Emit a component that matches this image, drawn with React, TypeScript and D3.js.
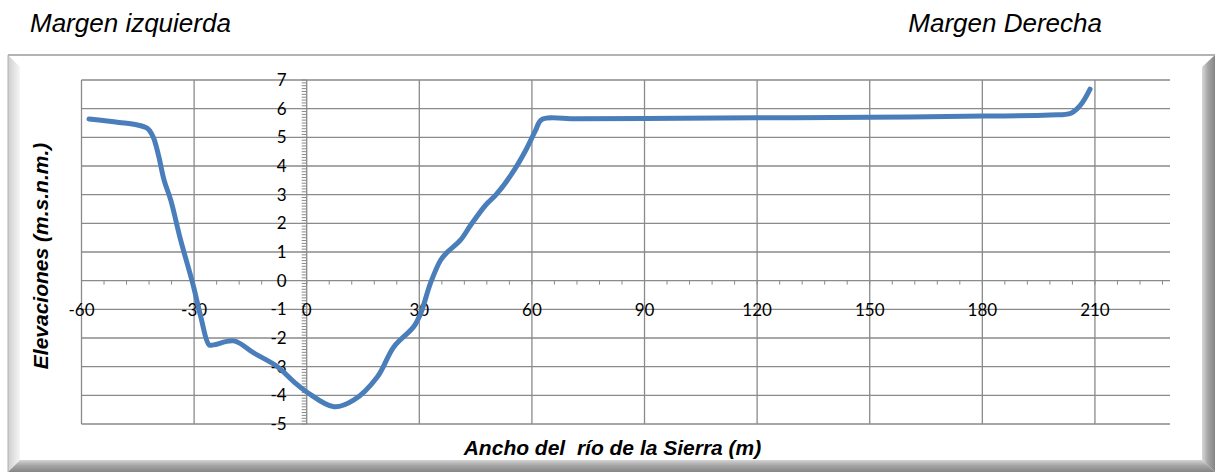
import React from "react";
import * as d3 from "d3";

// Sección transversal: distancia (m) vs elevación (m.s.n.m.)
const DIST = [
  -58.0, -50.0, -45.1, -42.4, -41.3, -40.6, -39.4, -38.0, -36.2, -33.6,
  -30.4, -28.2, -26.0, -24.8, -19.4, -14.0, -7.8, -3.4, 0.2, 7.3,
  12.6, 18.8, 23.2, 28.5, 30.4, 33.0, 35.7, 37.5, 41.0, 43.7,
  47.7, 50.4, 54.4, 58.4, 61.0, 62.6, 72.0, 90.0, 120.0,
  150.0, 180.4, 198.0, 203.6, 206.2, 208.7,
];
const ELEV = [
  5.64, 5.52, 5.43, 5.31, 5.12, 4.91, 4.33, 3.51, 2.80, 1.42,
  -0.08, -1.27, -2.24, -2.24, -2.10, -2.53, -3.00, -3.53, -3.90, -4.40,
  -4.16, -3.36, -2.31, -1.61, -1.13, -0.08, 0.72, 1.00, 1.42, 1.94,
  2.64, 2.99, 3.68, 4.56, 5.25, 5.62, 5.65, 5.66, 5.68,
  5.70, 5.74, 5.78, 5.84, 6.13, 6.68,
];

const X_TICKS = [-60, -30, 0, 30, 60, 90, 120, 150, 180, 210];
const Y_TICKS = [-5, -4, -3, -2, -1, 0, 1, 2, 3, 4, 5, 6, 7];
const X_DOMAIN = [-60, 230];
const Y_DOMAIN = [-5, 7];

const W = 1217;
const H = 474;
const PLOT = { left: 81.5, right: 1170, top: 80, bottom: 424 };
const GRID = "#8a8a8a";
const LINE = "#4A7EBB";
const TICK_FONT = "Lato, 'Open Sans', sans-serif";
const TITLE_FONT = "'Liberation Sans', Arial, sans-serif";

export default function App() {
  const x = d3.scaleLinear().domain(X_DOMAIN).range([PLOT.left, PLOT.right]);
  const y = d3.scaleLinear().domain(Y_DOMAIN).range([PLOT.bottom, PLOT.top]);

  const pts = DIST.map((d, i) => [d, ELEV[i]] as [number, number]);
  const path = d3.line<[number, number]>()
    .x(d => x(d[0]))
    .y(d => y(d[1]))
    .curve(d3.curveCatmullRom.alpha(0.5))(pts) ?? "";

  const minorX = d3.range(-60, 231, 6);
  const minorY = d3.range(-50, 71, 1).map(v => v / 10);
  const x0 = x(0);
  const y0 = y(0);

  return (
    <svg width={W} height={H} style={{ position: "absolute", left: 0, top: 0 }}>
      <defs>
        <linearGradient id="bevL" x1="0" x2="1" y1="0" y2="0">
          <stop offset="0" stopColor="#cfcfcf" />
          <stop offset="1" stopColor="#f6f6f6" />
        </linearGradient>
        <linearGradient id="bevB" x1="0" x2="0" y1="0" y2="1">
          <stop offset="0" stopColor="#d4d4d4" />
          <stop offset="0.45" stopColor="#a6a6a6" />
          <stop offset="1" stopColor="#858585" />
        </linearGradient>
        <linearGradient id="bevR" x1="0" x2="1" y1="0" y2="0">
          <stop offset="0" stopColor="#d8d8d8" />
          <stop offset="0.45" stopColor="#a6a6a6" />
          <stop offset="1" stopColor="#858585" />
        </linearGradient>
      </defs>
      <rect width={W} height={H} fill="#fff" />

      {/* titles above the frame */}
      <text x={30} y={32} fontFamily={TITLE_FONT} fontStyle="italic" fontSize={26} fill="#000">
        Margen izquierda
      </text>
      <text x={1102} y={32} textAnchor="end" fontFamily={TITLE_FONT} fontStyle="italic" fontSize={26} fill="#000">
        Margen Derecha
      </text>

      {/* bevelled chart frame */}
      <rect x={8} y={55} width={1207} height={417} fill="#fff" />
      <polygon points="8,55 20,67 20,460 8,472" fill="url(#bevL)" />
      <polygon points="8,472 20,460 1202,460 1215,472" fill="url(#bevB)" />
      <polygon points="1215,55 1202,67 1202,460 1215,472" fill="url(#bevR)" />
      <line x1={8} x2={1215} y1={55} y2={55} stroke="#9a9a9a" strokeWidth={1.5} />
      <line x1={8} x2={8} y1={55} y2={472} stroke="#b0b0b0" strokeWidth={1} />

      {/* gridlines */}
      <g stroke={GRID} strokeWidth={1.3}>
        {Y_TICKS.map(t => (
          <line key={"gy" + t} x1={PLOT.left} x2={PLOT.right} y1={y(t)} y2={y(t)} />
        ))}
        {X_TICKS.map(t => (
          <line key={"gx" + t} x1={x(t)} x2={x(t)} y1={PLOT.top} y2={PLOT.bottom} />
        ))}
        {/* minor ticks on the axes through the origin */}
        {minorX.map(t => (
          <line key={"mx" + t} x1={x(t)} x2={x(t)} y1={y0} y2={y0 + 4} strokeWidth={1} />
        ))}
        {minorY.map(t => (
          <line key={"my" + t} x1={x0 - 5} x2={x0} y1={y(t)} y2={y(t)} strokeWidth={1} />
        ))}
      </g>

      {/* tick labels */}
      <g fontFamily={TICK_FONT} fontSize={17} fill="#000">
        {X_TICKS.map(t => (
          <text key={"lx" + t} x={x(t)} y={y0 + 35} textAnchor="middle">
            {t}
          </text>
        ))}
        {Y_TICKS.map(t => (
          <text key={"ly" + t} x={x0 - 20} y={y(t) + 6} textAnchor="end">
            {t}
          </text>
        ))}
      </g>

      {/* profile */}
      <path d={path} fill="none" stroke={LINE} strokeWidth={5} strokeLinecap="round" strokeLinejoin="round" />

      {/* axis titles */}
      <text
        transform={`translate(48,256) rotate(-90)`}
        textAnchor="middle"
        fontFamily={TITLE_FONT}
        fontStyle="italic"
        fontWeight="bold"
        fontSize={21}
        fill="#000"
      >
        Elevaciones (m.s.n.m.)
      </text>
      <text
        x={612.5}
        y={455}
        textAnchor="middle"
        fontFamily={TITLE_FONT}
        fontStyle="italic"
        fontWeight="bold"
        fontSize={21}
        fill="#000"
        style={{ whiteSpace: "pre" }}
      >
        {"Ancho del  río de la Sierra (m)"}
      </text>
    </svg>
  );
}
